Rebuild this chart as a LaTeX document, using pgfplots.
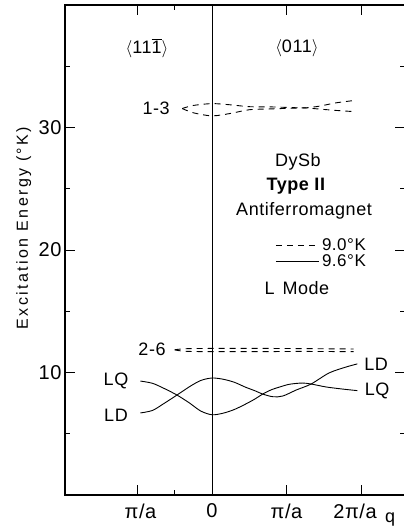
\documentclass[border=0pt]{standalone}
\usepackage{pgfplots}
\pgfplotsset{compat=1.18}
\usepackage{fontspec}
\setmainfont{Liberation Sans}[LetterSpace=3]
\newfontfamily\ylabfont{Liberation Sans}[LetterSpace=15]
\newcommand{\fs}{\fontsize{18}{20}\selectfont}
\begin{document}
\begin{tikzpicture}
\begin{axis}[
  at={(65pt,36pt)}, anchor=south west,
  scale only axis, width=340pt, height=490pt,
  xmin=-1.973, xmax=2.59, ymin=0, ymax=40,
  axis line style={line width=1.2pt},
  xtick={-1,0,1,2},
  xticklabels={\hspace{6pt}π/a,0,π/a,\hspace*{-12pt}2π/a},
  minor xtick={-0.5},
  ytick={10,20,30},
  minor ytick={5,15,25,35},
  tick align=inside,
  major tick length=10pt, minor tick length=5pt,
  tick style={black, line width=1pt},
  /pgf/number format/assume math mode=true,
  ticklabel style={font=\fontsize{20}{20}\selectfont},
  xticklabel style={yshift=-5pt},
  extra x ticks={0}, extra x tick labels={},
  extra x tick style={grid=major},
  major grid style={solid, black, line width=1pt},
  clip=false,
  legend style={at={(axis description cs:0.618,0.493)}, anchor=west, draw=none, fill=none,
    font=\fontsize{17}{18}\selectfont, row sep=3pt, inner sep=0pt, nodes={inner sep=0pt}},
  legend cell align=left,
  legend image code/.code={\draw[#1] (0pt,0pt) -- (43pt,0pt);},
]
% LQ(left) / LD(right) branch
\addplot[black, line width=0.9pt, smooth, forget plot] coordinates {
(-0.96,9.3) (-0.8,9.12) (-0.65,8.72) (-0.47,8.16) (-0.3,7.5) (-0.15,6.85) (0,6.55)
(0.15,6.68) (0.3,6.98) (0.45,7.42) (0.58,7.85) (0.68,8.24) (0.8,8.6) (0.91,8.82)
(1.04,9.04) (1.21,9.14) (1.33,9.06) (1.53,8.82) (1.75,8.65) (1.95,8.52)};
\addplot[black, line width=0.9pt, smooth, forget plot] coordinates {
(-0.96,6.7) (-0.8,6.9) (-0.65,7.45) (-0.47,8.16) (-0.3,8.85) (-0.15,9.35) (0,9.55)
(0.15,9.45) (0.3,9.2) (0.45,8.8) (0.58,8.5) (0.68,8.24) (0.82,8.02) (0.95,8.08)
(1.13,8.57) (1.33,9.06) (1.57,9.96) (1.8,10.45) (1.95,10.7)};
% 1-3 pair
\addplot[black, line width=0.9pt, smooth, dash pattern=on 6pt off 5pt, forget plot] coordinates {
(-0.4,31.55) (-0.25,31.8) (0,31.95) (0.25,31.85) (0.5,31.7) (0.8,31.68) (1.1,31.62)
(1.25,31.6) (1.45,31.75) (1.65,32.0) (1.9,32.2)};
\addplot[black, line width=0.9pt, smooth, dash pattern=on 6pt off 5pt, forget plot] coordinates {
(-0.4,31.55) (-0.25,31.2) (0,30.95) (0.25,31.15) (0.5,31.45) (0.8,31.52) (1.1,31.58)
(1.25,31.6) (1.45,31.5) (1.65,31.4) (1.9,31.3)};
% 2-6 pair
\addplot[black, line width=0.9pt, smooth, dash pattern=on 6pt off 5pt, forget plot] coordinates {
(-0.5,11.85) (-0.3,11.95) (0.5,11.97) (1.2,11.95) (1.9,11.92)};
\addplot[black, line width=0.9pt, smooth, dash pattern=on 6pt off 5pt, forget plot] coordinates {
(-0.5,11.85) (-0.3,11.72) (0.5,11.7) (1.2,11.72) (1.9,11.7)};
% legend
\addlegendimage{black, line width=0.9pt, dash pattern=on 6pt off 5pt}
\addlegendentry{\,9.0°K}
\addlegendimage{black, line width=0.9pt}
\addlegendentry{\,9.6°K}
% texts
\node[font=\fs] at (axis description cs:0.241,0.912) {$\langle$11$\overline{\hbox{1}}$$\rangle$};
\node[font=\fs] at (axis description cs:0.682,0.912) {$\langle$011$\rangle$};
\node[font=\fs] at (axis description cs:0.268,0.790) {1-3};
\node[font=\fs] at (axis description cs:0.685,0.680) {DySb};
\node[font=\fs\bfseries] at (axis description cs:0.679,0.631) {Type II};
\node[font=\fs] at (axis description cs:0.703,0.580) {Antiferromagnet};
\node[font=\fs] at (axis description cs:0.682,0.422) {L\hspace{8pt}Mode};
\node[font=\fs] at (axis description cs:0.256,0.298) {2-6};
\node[font=\fs] at (axis description cs:0.150,0.233) {LQ};
\node[font=\fs] at (axis description cs:0.150,0.163) {LD};
\node[font=\fs] at (axis description cs:0.915,0.267) {LD};
\node[font=\fs] at (axis description cs:0.918,0.212) {LQ};
\node[font=\fs, anchor=base] at (axis description cs:0.956,-0.057) {q};
\node[font=\ylabfont\fontsize{16}{17}\selectfont, rotate=90] at (axis description cs:-0.121,0.545) {Excitation Energy (°K)};
\end{axis}
\pgfresetboundingbox
\path[use as bounding box] (0,0) rectangle (404pt,531pt);
\end{tikzpicture}
\end{document}
